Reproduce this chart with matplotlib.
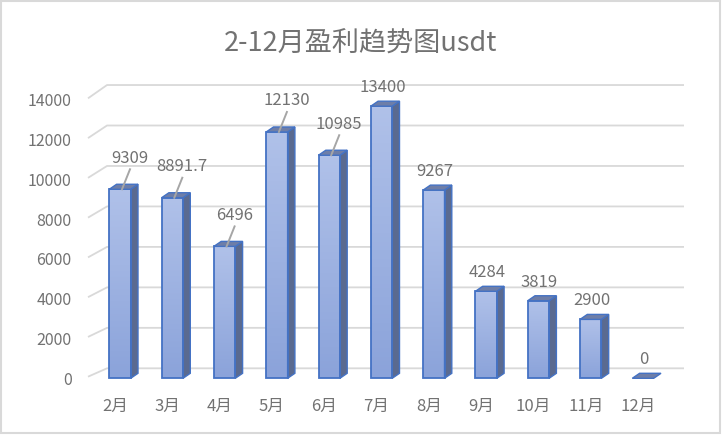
import numpy as np
import matplotlib
matplotlib.use("Agg")
import matplotlib.pyplot as plt
from matplotlib.patches import Polygon, Rectangle
from matplotlib.colors import LinearSegmentedColormap

# 数据
months = ['2月', '3月', '4月', '5月', '6月', '7月', '8月', '9月', '10月', '11月', '12月']
profit = [9309, 8891.7, 6496, 12130, 10985, 13400, 9267, 4284, 3819, 2900, 0]
value_labels = ['9309', '8891.7', '6496', '12130', '10985', '13400', '9267', '4284', '3819', '2900', '0']
yticks = [0, 2000, 4000, 6000, 8000, 10000, 12000, 14000]
title = '2-12月盈利趋势图usdt'

plt.rcParams['font.family'] = ['Noto Sans CJK SC', 'DejaVu Sans']
TXT = '#727272'
GRID = '#d9d9d9'
EDGE = '#4472c4'

W, H = 722, 436
fig = plt.figure(figsize=(W / 100, H / 100), dpi=100)

# 像素 -> 数据单位
px_x = 1 / 52.3          # 每像素的 x 单位
px_y = 1 / 0.02031       # 每像素的数值
x0 = -32 * px_x          # 左前角
x1 = 564 * px_x          # 背墙右端
ax = fig.add_axes([88 / W, (H - 378.3) / H, (684 - 88) / W, 284.3 / H])
ax.set_xlim(x0, x1)
ax.set_ylim(0, 14000)
ax.axis('off')

# 网格线（带透视的左侧斜线）
wall_dx = 19 * px_x
for v in yticks:
    yf = 79 + v * 0.9791
    yb = 492 + v * 0.9964
    ax.plot([x0, x0 + wall_dx, x1], [yf, yb, yb], color=GRID, lw=1.3,
            clip_on=False, zorder=1, solid_capstyle='butt')
    ax.text(x0 - 16.3 * px_x, v * 0.9793 - 94, str(v), ha='right', va='center',
            fontsize=11.5, color=TXT)

# 柱子
bw = 21.4 * px_x
dx = 7.3 * px_x
dy = 5 * px_y
grad = LinearSegmentedColormap.from_list('g', ['#8ba3da', '#b0c1e9'])
gimg = np.linspace(0, 1, 64).reshape(-1, 1)
for i, v in enumerate(profit):
    l, r = i - bw / 2, i + bw / 2
    if v > 0:
        ax.imshow(gimg, extent=(l, r, 0, v), origin='lower', cmap=grad,
                  aspect='auto', zorder=3, clip_on=False)
        ax.add_patch(Rectangle((l, 0), bw, v, fill=False, ec=EDGE, lw=1.3,
                               zorder=4, clip_on=False))
        ax.add_patch(Polygon([(r, 0), (r + dx, dy), (r + dx, v + dy), (r, v)],
                             closed=True, fc='#5a6a90', ec=EDGE, lw=1.0,
                             zorder=3, clip_on=False))
    ax.add_patch(Polygon([(l, v), (l + dx, v + dy), (r + dx, v + dy), (r, v)],
                         closed=True, fc='#6e7ea8', ec=EDGE, lw=1.0,
                         zorder=4, clip_on=False))

    # 数据标签
    if i < 5:
        ax.plot([i + 2 * px_x, i + 10 * px_x], [v, v + 20 * px_y], color='#a6a6a6',
                lw=1.4, zorder=5, clip_on=False)
        ax.text(i + 10 * px_x, v + 31 * px_y, value_labels[i], ha='center',
                va='center', fontsize=12, color=TXT, zorder=6)
    else:
        ax.text(i + 1 * px_x, v + 18.5 * px_y, value_labels[i], ha='center',
                va='center', fontsize=12, color=TXT, zorder=6)

    ax.text(i - 5 * px_x, -27.7 * px_y, months[i], ha='center', va='center',
            fontsize=12, color=TXT)

fig.text(0.5, 1 - 44 / H, title, ha='center', va='center', fontsize=19.5, color=TXT)

fig.add_artist(Rectangle((1 / W, 3 / H), 719 / W, 432 / H, transform=fig.transFigure,
                         fill=False, ec='#d9d9d9', lw=1.5))

fig.savefig('out.png', dpi=100)
